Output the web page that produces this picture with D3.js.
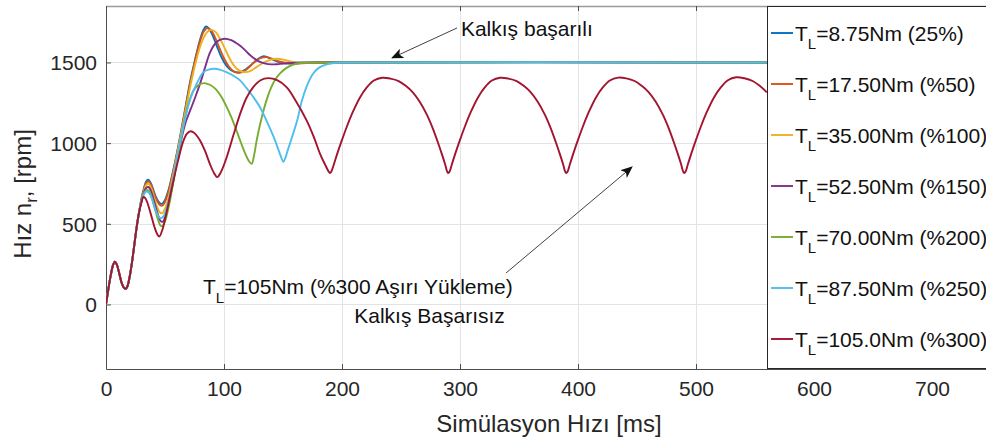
<!DOCTYPE html>
<html>
<head>
<meta charset="utf-8">
<script src="https://cdn.jsdelivr.net/npm/d3@7"></script>
<style>
  body { margin: 0; background: #fff; }
  svg { display: block; font-family: "Liberation Sans", Arial, Helvetica, sans-serif; }
</style>
</head>
<body>
<svg id="chart" width="986" height="441"></svg>
<script>
// Rotor speed during start-up for several load torques (time in ms, speed in rpm)
const xTicks = [0, 100, 200, 300, 400, 500, 600, 700];
const yTicks = [0, 500, 1000, 1500];

const seriesLabels = ["8.75Nm (25%)", "17.50Nm (%50)", "35.00Nm (%100)", "52.50Nm (%150)",
                      "70.00Nm (%200)", "87.50Nm (%250)", "105.0Nm (%300)"];
const seriesColors = ["#0072BD", "#D95319", "#EDB120", "#7E2F8E", "#77AC30", "#4DBEEE", "#A2142F"];

// first ~28 ms are identical for every load
const commonStart = [[0,0],[2,95],[4,180],[6,245],[7.5,265],[9,250],[11,200],[13,140],[15,105],[16.5,97],
  [18,110],[20,170],[22,260],[24,370],[26,480],[28,570]];

const load25 = [[30,655],[32,715],[34,762],[35.9,773],[38,752],[40,712],[42,672],[44,642],[46,626],[47.5,624],
  [50,648],[53,710],[56,800],[59,900],[62,1010],[65,1130],[68,1250],[71,1370],[74,1470],[77,1565],[80,1648],
  [82.5,1700],[84.7,1723],[87,1712],[90,1675],[94,1600],[98,1530],[102,1480],[106,1452],[110,1440],[114,1440],
  [118,1455],[122,1478],[126,1505],[130,1528],[133,1538],[137,1532],[142,1515],[148,1500],[155,1494],[165,1497],
  [180,1500],[560,1500]];

const load50 = [[30,650],[32,708],[34,752],[36,762],[38,744],[40,704],[42,664],[44,632],[46,614],[48,614],
  [50,636],[53,700],[56,792],[59,893],[62,1000],[65,1118],[68,1238],[71,1358],[74,1462],[77,1558],[80,1638],
  [83,1693],[85.9,1713],[89,1700],[92,1662],[96,1592],[100,1526],[104,1476],[108,1446],[112,1436],[116,1442],
  [120,1462],[124,1490],[128,1515],[132,1530],[136,1533],[140,1525],[146,1508],[152,1498],[160,1494],[170,1497],
  [185,1500],[560,1500]];

const load100 = [[30,645],[32,700],[34,740],[36,748],[38,726],[40,682],[42,632],[44,592],[46,568],[48,567],
  [50,594],[53,665],[56,770],[59,880],[62,995],[65,1108],[68,1222],[71,1336],[74,1438],[77,1528],[80,1604],
  [83,1658],[86,1690],[89.5,1702],[93,1688],[97,1642],[101,1582],[105,1522],[109,1476],[113,1449],[118,1440],
  [123,1450],[128,1474],[134,1500],[140,1518],[145,1523],[150,1518],[156,1507],[163,1498],[172,1496],
  [185,1500],[560,1500]];

const load150 = [[30,640],[32,692],[34,722],[36,728],[38,706],[40,660],[42,608],[44,558],[46,520],[48,512],
  [50,540],[53,620],[56,728],[59,845],[62,960],[65,1060],[68,1140],[72,1215],[76,1292],[80,1375],[84,1470],
  [88,1560],[92,1612],[96,1638],[101,1647],[106,1638],[110,1622],[114,1602],[118,1575],[122,1546],[126,1523],
  [130,1505],[135,1493],[140,1488],[146,1490],[155,1496],[165,1500],[560,1500]];

const load200 = [[30,638],[32,685],[34,708],[36,706],[38,680],[40,632],[42,578],[44,528],[46,490],[47.5,484],
  [50,515],[53,600],[56,715],[59,840],[62,960],[65,1080],[68,1190],[71,1270],[74,1325],[78,1358],[83,1372],
  [88,1362],[93,1335],[98,1285],[102,1228],[106,1165],[110,1090],[114,1010],[118,935],[121,890],[123.5,872],
  [125.5,925],[127.7,1017],[131,1130],[136,1265],[140,1345],[144,1400],[147.5,1432],[152,1462],[158,1485],
  [164,1497],[175,1500],[560,1500]];

const load250 = [[30,638],[32,682],[34,700],[36,696],[38,672],[40,630],[42,585],[44,552],[46,535],[48,540],
  [50,565],[53,640],[56,745],[59,860],[62,975],[65,1085],[67,1150],[70,1240],[73,1305],[76,1355],[79,1400],
  [82.5,1440],[87,1456],[92,1461],[97,1454],[102,1440],[108,1418],[113.6,1389],[119,1342],[124.8,1286],
  [130.5,1223],[136,1140],[142,1040],[146,962],[148.5,912],[150.3,884],[152,908],[154,955],[158,1045],
  [162,1140],[166,1262],[170,1350],[175,1425],[180,1465],[187,1488],[195,1498],[205,1500],[560,1500]];

const load300 = [[30,630],[31.6,665],[33,662],[35,632],[38,560],[41,482],[43.5,435],[45.2,421],[48,468],
  [51,560],[54,662],[57,762],[61,890],[65.5,1012],[68.5,1058],[71.8,1074],[75,1062],[79.7,1017],[84,950],
  [88,872],[91.5,815],[94.3,789],[97.5,822],[102.3,913],[108,1050],[113.6,1180],[119,1280],[124.8,1347],
  [131,1390],[137.6,1403],[145,1390],[153,1347],[161,1260],[170,1141],[176,1040],[181.4,934],[186,862],
  [188.5,826],[189.8,814],[191,824],
  [193,866],[196,935],[200,1020],[204,1100],[209,1190],[215,1280],[221,1345],[227,1388],[234,1405],[241,1400],
  [248,1385],[254,1355],[260,1315],[266,1255],[272,1175],[277,1090],[281,1010],[284.5,935],[287.5,866],
  [289,826],[290,814],[291.2,824],
  [293,866],[296,935],[300,1020],[304,1100],[309,1190],[315,1280],[321,1345],[327,1388],[334,1405],[341,1400],
  [348,1385],[354,1355],[360,1315],[366,1255],[372,1175],[377,1090],[381,1010],[384.5,935],[387.5,866],
  [389,826],[390,814],[391.2,824],
  [393,866],[396,935],[400,1020],[404,1100],[409,1190],[415,1280],[421,1345],[427,1388],[434,1406],[441,1401],
  [448,1385],[454,1355],[460,1315],[466,1255],[472,1175],[477,1090],[481,1010],[484.5,935],[487.5,866],
  [489,826],[490,814],[491.2,824],
  [493,866],[496,935],[500,1020],[504,1100],[509,1190],[515,1280],[521,1345],[527,1390],[534,1408],[541,1402],
  [548,1385],[554,1355],[560,1315]];

const seriesData = [load25, load50, load100, load150, load200, load250, load300];

const svg = d3.select("#chart");
const plotLeft = 106, plotTop = 6, plotW = 885, plotH = 363;

const x = d3.scaleLinear().domain([0, 750]).range([plotLeft, plotLeft + plotW]);
const y = d3.scaleLinear().domain([-400, 1850]).range([plotTop + plotH, plotTop]);

const defs = svg.append("defs");
defs.append("clipPath").attr("id", "plotClip")
  .append("rect").attr("x", plotLeft).attr("y", plotTop).attr("width", plotW).attr("height", plotH);

// grid
const grid = svg.append("g").attr("stroke", "#e3e3e3").attr("stroke-width", 1);
xTicks.filter(d => d > 0).forEach(d => {
  grid.append("line").attr("x1", Math.round(x(d)) + 0.5).attr("x2", Math.round(x(d)) + 0.5)
    .attr("y1", plotTop).attr("y2", plotTop + plotH);
});
yTicks.forEach(d => {
  grid.append("line").attr("y1", Math.round(y(d)) + 0.5).attr("y2", Math.round(y(d)) + 0.5)
    .attr("x1", plotLeft).attr("x2", plotLeft + plotW);
});

// axes with inward ticks (box style)
const xAxis = svg.append("g").attr("transform", `translate(0,${plotTop + plotH})`)
  .call(d3.axisBottom(x).tickValues(xTicks).tickFormat(d3.format("d"))
    .tickSizeInner(-5).tickSizeOuter(0).tickPadding(12));
const xAxisTop = svg.append("g").attr("transform", `translate(0,${plotTop})`)
  .call(d3.axisTop(x).tickValues(xTicks).tickSizeInner(-5).tickSizeOuter(0).tickFormat(""));
const yAxis = svg.append("g").attr("transform", `translate(${plotLeft},0)`)
  .call(d3.axisLeft(y).tickValues(yTicks).tickFormat(d3.format("d"))
    .tickSizeInner(-5).tickSizeOuter(0).tickPadding(9));

[xAxis, yAxis].forEach(g => {
  g.selectAll("text").attr("font-size", 21).attr("fill", "#262626")
    .attr("font-family", '"Liberation Sans", Arial, sans-serif');
  g.select(".domain").attr("stroke", "#4d4d4d");
  g.selectAll(".tick line").attr("stroke", "#4d4d4d");
});
xAxisTop.select(".domain").attr("stroke", "#9a9a9a").attr("stroke-width", 1.5);
xAxisTop.selectAll(".tick line").attr("stroke", "#4d4d4d");
xAxis.selectAll("text").attr("dy", "0.71em");
yAxis.selectAll("text").attr("dy", "0.35em");

// curves
const line = d3.line().x(d => x(d[0])).y(d => y(d[1])).curve(d3.curveCatmullRom.alpha(0.5));
const curves = svg.append("g").attr("clip-path", "url(#plotClip)");
seriesData.forEach((s, i) => {
  curves.append("path").datum(commonStart.concat(s))
    .attr("d", line).attr("fill", "none")
    .attr("stroke", seriesColors[i]).attr("stroke-width", 1.9)
    .attr("stroke-linejoin", "round");
});

// axis titles
svg.append("text").attr("x", 549).attr("y", 432).attr("text-anchor", "middle")
  .attr("font-size", 24).attr("fill", "#262626").text("Simülasyon Hızı [ms]");

const yl = svg.append("text").attr("transform", "translate(31,194) rotate(-90)")
  .attr("text-anchor", "middle").attr("font-size", 24).attr("fill", "#262626");
yl.append("tspan").text("Hız n");
yl.append("tspan").attr("font-size", 17).attr("dy", 6).text("r");
yl.append("tspan").attr("dy", -6).text(", [rpm]");

// annotations
const ann = svg.append("g").attr("font-size", 21).attr("fill", "#111");
defs.append("marker").attr("id", "arrowHead")
  .attr("viewBox", "0 0 12 10").attr("refX", 11).attr("refY", 5)
  .attr("markerWidth", 12).attr("markerHeight", 10).attr("markerUnits", "userSpaceOnUse")
  .attr("orient", "auto")
  .append("path").attr("d", "M0,0 L12,5 L0,10 L3,5 Z").attr("fill", "#111");

ann.append("text").attr("x", x(300.8)).attr("y", y(1664)).text("Kalkış başarılı");
ann.append("line").attr("x1", x(297.5)).attr("y1", y(1714)).attr("x2", x(242.4)).attr("y2", y(1528))
  .attr("stroke", "#111").attr("stroke-width", 0.8).attr("marker-end", "url(#arrowHead)");

const tl = ann.append("text").attr("x", x(82.2)).attr("y", y(63));
tl.append("tspan").text("T");
tl.append("tspan").attr("font-size", 15).attr("dy", 9).text("L");
tl.append("tspan").attr("dy", -9).text("=105Nm (%300 Aşırı Yükleme)");
ann.append("text").attr("x", x(338)).attr("y", y(-115)).attr("text-anchor", "end").text("Kalkış Başarısız");
ann.append("line").attr("x1", x(339)).attr("y1", y(195)).attr("x2", x(445.8)).attr("y2", y(852))
  .attr("stroke", "#111").attr("stroke-width", 0.8).attr("marker-end", "url(#arrowHead)");

// legend
const lg = svg.append("g").attr("transform", "translate(767,6)");
lg.append("rect").attr("x", 0.5).attr("y", 0.5).attr("width", 260).attr("height", 362)
  .attr("fill", "#fff").attr("stroke", "#262626").attr("stroke-width", 1);
seriesLabels.forEach((lab, i) => {
  const cy = 27 + i * 51;
  lg.append("line").attr("x1", 4).attr("x2", 26).attr("y1", cy).attr("y2", cy)
    .attr("stroke", seriesColors[i]).attr("stroke-width", 1.9);
  const t = lg.append("text").attr("x", 28).attr("y", cy + 8).attr("font-size", 21).attr("fill", "#111");
  t.append("tspan").text("T");
  t.append("tspan").attr("font-size", 15).attr("dy", 8).text("L");
  t.append("tspan").attr("dy", -8).text("=" + lab);
});
</script>
</body>
</html>
